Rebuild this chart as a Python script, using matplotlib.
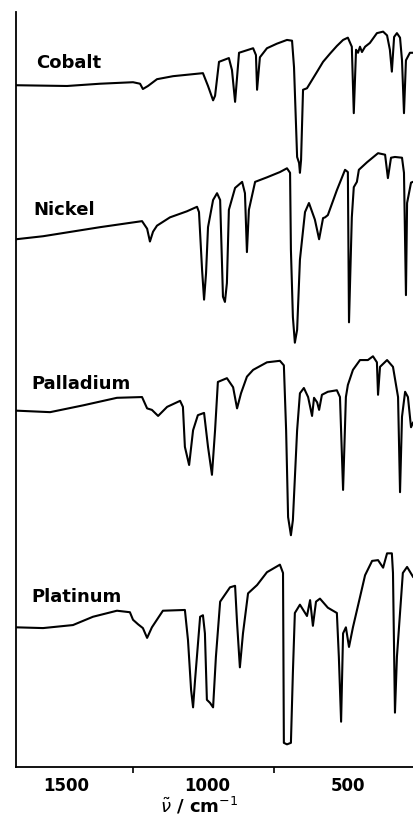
import matplotlib
matplotlib.use("Agg")
import matplotlib.pyplot as plt
import matplotlib.transforms as mtransforms

# wavenumbers (cm-1) and stacked transmittance (arbitrary units, axis 0..100)
cobalt_wn = [1665, 1484, 1367, 1250, 1225, 1215, 1197, 1165, 1108, 1002, 984, 966, 959, 945,
             910, 899, 888, 874, 824, 814, 810, 800, 775, 740, 704, 686, 679, 668, 661, 658, 654,
             647, 633, 615, 597, 576, 551, 527, 505, 488, 474, 467, 459, 452, 445, 438, 427, 410, 385,
             363, 349, 339, 332, 324, 314, 303, 296, 289, 282, 268, 257]
cobalt_t = [90.3, 90.2, 90.5, 90.7, 90.5, 89.8, 90.2, 91.1, 91.5, 91.9, 90.2, 88.3, 88.9, 93.4,
            93.9, 92.3, 88.1, 94.6, 95.2, 94.3, 89.7, 94.0, 95.2, 95.8, 96.3, 96.2, 92.7, 80.8, 80.0, 78.7, 80.4,
            89.7, 89.9, 91.0, 92.1, 93.4, 94.5, 95.5, 96.3, 96.6, 95.4, 86.6, 95.0, 94.6, 95.4, 94.7, 95.4, 95.9, 97.2,
            97.4, 96.9, 95.0, 92.1, 96.7, 97.2, 96.6, 93.6, 86.6, 93.6, 94.6, 94.6]

nickel_wn = [1665, 1569, 1367, 1218, 1200, 1190, 1179, 1165, 1119, 1059, 1023, 1016, 1005, 998,
             991, 984, 966, 952, 941, 931, 924, 917, 910, 888, 863, 853, 846, 839, 817, 775,
             729, 704, 693, 690, 683, 676, 668, 658, 640, 626, 605, 590, 576, 569, 559, 527,
             498, 488, 484, 474, 467, 456, 449, 420, 381, 356, 346, 335, 321, 296, 289, 282,
             278, 264, 257]
nickel_t = [69.9, 70.3, 71.5, 72.3, 71.3, 69.6, 70.9, 71.7, 72.8, 73.6, 74.2, 73.5, 65.8, 61.9,
            65.4, 71.5, 75.1, 76.0, 75.1, 62.3, 61.6, 64.1, 73.8, 76.7, 77.5, 76.0, 68.2, 73.8, 77.5, 78.1,
            78.8, 79.3, 78.7, 68.5, 59.6, 56.2, 57.9, 67.2, 73.5, 74.7, 72.5, 69.9, 72.7, 72.8, 73.1, 76.4,
            79.1, 78.8, 58.9, 72.8, 76.8, 77.5, 79.1, 80.1, 81.3, 81.1, 78.0, 80.7, 80.8, 80.7, 78.7, 62.5,
            74.7, 77.4, 77.5]

palladium_wn = [1665, 1544, 1427, 1307, 1218, 1200, 1183, 1161, 1129, 1083, 1073, 1066, 1051,
                1037, 1020, 998, 984, 970, 959, 949, 917, 895, 881, 867, 846, 824, 775, 729, 715,
                707, 700, 690, 683, 668, 658, 644, 629, 615, 608, 597, 590, 580, 559, 527, 516,
                505, 495, 488, 470, 445, 417, 399, 385, 381, 374, 349, 328, 310, 303, 296, 285,
                275, 264, 257]
palladium_t = [47.2, 47.0, 47.9, 48.9, 49.0, 47.5, 47.3, 46.5, 47.7, 48.5, 47.7, 42.4, 40.0,
               44.6, 46.6, 46.9, 42.4, 38.7, 44.6, 51.0, 51.5, 50.3, 47.5, 49.5, 51.7, 52.6, 53.6, 53.8, 53.2,
               44.6, 33.1, 30.7, 32.7, 44.6, 49.5, 50.2, 49.0, 46.5, 48.9, 48.3, 47.3, 49.3, 49.7, 49.9, 49.0,
               36.7, 49.0, 50.6, 52.6, 53.9, 53.9, 54.4, 53.6, 49.3, 53.0, 53.9, 53.0, 49.0, 36.4, 46.4, 49.7,
               49.0, 45.0, 45.6]

platinum_wn = [1665, 1569, 1463, 1392, 1307, 1261, 1250, 1232, 1215, 1200, 1183, 1144, 1066,
               1055, 1044, 1037, 1030, 1012, 1002, 995, 988, 977, 966, 956, 941, 906, 888, 881,
               871, 860, 842, 810, 775, 729, 718, 715, 704, 690, 683, 676, 658, 633, 622, 612,
               601, 587, 559, 527, 520, 512, 505, 495, 484, 470, 445, 427, 402, 381, 363, 349,
               332, 328, 321, 314, 293, 278, 257]
platinum_t = [18.5, 18.4, 18.8, 19.9, 20.7, 20.5, 19.5, 18.9, 18.4, 17.1, 18.5, 20.7, 20.8,
              16.8, 10.2, 7.9, 11.5, 19.9, 20.1, 17.7, 8.9, 8.5, 7.9, 14.6, 21.9, 23.8, 24.0, 19.1,
              13.2, 17.7, 23.0, 24.1, 25.8, 26.8, 25.7, 3.2, 3.0, 3.2, 12.5, 20.4, 21.5, 20.0, 22.1, 18.7,
              21.9, 22.3, 21.1, 20.4, 14.6, 6.0, 17.7, 18.5, 15.9, 18.5, 22.5, 25.4, 27.3, 27.4, 26.4, 28.3,
              28.3, 25.7, 7.2, 14.6, 25.7, 26.5, 25.2]

names = ["Cobalt", "Nickel", "Palladium", "Platinum"]
label_wn = [1594, 1605, 1609, 1612]
label_t = [93.2, 73.8, 50.7, 22.5]

major_ticks = [1500, 1000, 500]
minor_ticks = [1250, 750]

fig = plt.figure(figsize=(4.13, 8.15), dpi=100)
ax = fig.add_axes([16 / 413, 48 / 815, 397 / 413, 755 / 815])

for wn, t in [(cobalt_wn, cobalt_t), (nickel_wn, nickel_t),
              (palladium_wn, palladium_t), (platinum_wn, platinum_t)]:
    ax.plot(wn, t, color="black", lw=1.5, solid_joinstyle="round")

for name, x, y in zip(names, label_wn, label_t):
    ax.text(x, y, name, fontsize=13, fontweight="bold", ha="left", va="center")

ax.set_xlim(1665, 257)
ax.set_ylim(0, 100)
ax.spines["top"].set_visible(False)
ax.spines["right"].set_visible(False)
ax.spines["left"].set_linewidth(1.3)
ax.spines["bottom"].set_linewidth(1.3)
ax.set_yticks([])
ax.set_xticks(major_ticks)
ax.set_xticklabels([str(v) for v in major_ticks], fontsize=12, fontweight="bold")
ax.set_xticks(minor_ticks, minor=True)
ax.tick_params(axis="x", which="major", length=0, pad=7)
ax.tick_params(axis="x", which="minor", length=4, width=1.2, direction="out")

shift = mtransforms.ScaledTranslation(4 / 100, 0, fig.dpi_scale_trans)
for lbl in ax.get_xticklabels():
    lbl.set_transform(lbl.get_transform() + shift)

ax.set_xlabel(r"$\tilde{\nu}$ / cm$^{-1}$", fontsize=13, fontweight="bold")
ax.xaxis.set_label_coords(0.461, -0.037)

fig.savefig("out.png", dpi=100)
